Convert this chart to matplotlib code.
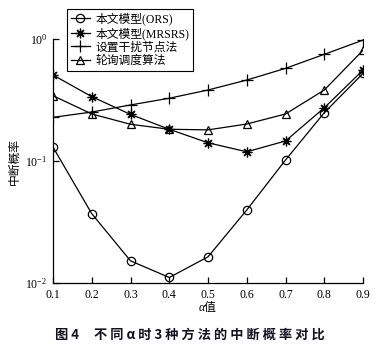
import matplotlib
matplotlib.use("Agg")
import matplotlib.pyplot as plt

plt.rcParams['font.family'] = ['Liberation Serif', 'Noto Sans CJK SC']
plt.rcParams['mathtext.fontset'] = 'stix'

# alpha 取值
alpha = [0.1, 0.2, 0.3, 0.4, 0.5, 0.6, 0.7, 0.8, 0.9]

# 各方法的中断概率
ors = [0.13, 0.037, 0.0152, 0.0111, 0.0164, 0.0397, 0.102, 0.249, 0.523]
mrsrs = [0.507, 0.337, 0.241, 0.182, 0.141, 0.119, 0.146, 0.273, 0.557]
jam_node = [0.228, 0.252, 0.288, 0.327, 0.382, 0.461, 0.575, 0.749, 0.98]
round_robin = [0.343, 0.243, 0.200, 0.182, 0.180, 0.201, 0.243, 0.382, 0.81]

labels = ['本文模型(ORS)', '本文模型(MRSRS)', '设置干扰节点法', '轮询调度算法']
x_ticks = [0.1, 0.2, 0.3, 0.4, 0.5, 0.6, 0.7, 0.8, 0.9]

fig = plt.figure(figsize=(3.79, 3.47), dpi=100)
ax = fig.add_axes([0.1398, 0.1844, 0.8182, 0.7032])

kw = dict(color='black', linewidth=0.9, markerfacecolor='none',
          markeredgecolor='black', markeredgewidth=0.9)
ax.plot(alpha, ors, marker='o', markersize=6, label=labels[0], **kw)
ax.plot(alpha, mrsrs, marker=(8, 2, 0), markersize=7, label=labels[1], **kw)
ax.plot(alpha, jam_node, marker='+', markersize=8, label=labels[2], **kw)
ax.plot(alpha, round_robin, marker='^', markersize=6, label=labels[3], **kw)

ax.set_yscale('log')
ax.set_xlim(0.1, 0.9)
ax.set_ylim(1e-2, 1)
ax.set_xticks(x_ticks)
ax.set_xticklabels([f"{v:.1f}" for v in x_ticks])
ax.set_yticks([1e-2, 1e-1, 1])
ax.yaxis.set_minor_locator(matplotlib.ticker.NullLocator())

for s in ['top', 'right']:
    ax.spines[s].set_visible(False)
for s in ['left', 'bottom']:
    ax.spines[s].set_linewidth(0.9)

ax.tick_params(axis='both', direction='in', length=4, width=0.9,
               labelsize=8.5, pad=4)

ax.set_xlabel('α值', fontsize=8.5, labelpad=1, style='italic')
ax.set_ylabel('中断概率', fontsize=8.5, family=['Noto Sans CJK SC'], labelpad=3)

leg = fig.legend(loc='upper left', bbox_to_anchor=(0.177, 0.974),
                 fontsize=8.5, frameon=True, fancybox=False,
                 handlelength=1.6, handletextpad=0.5, borderpad=0.3,
                 labelspacing=0.15, borderaxespad=0)
leg.get_frame().set_edgecolor('black')
leg.get_frame().set_linewidth(0.8)
leg.get_frame().set_alpha(1)

fig.text(0.5, 0.035, '图 4     不 同 α 时 3 种 方 法 的 中 断 概 率 对 比',
         ha='center', va='center', fontsize=9.5, fontweight='bold',
         family=['Noto Sans CJK SC', 'Liberation Serif'], color='#111122')

fig.savefig('out.png', dpi=100)
